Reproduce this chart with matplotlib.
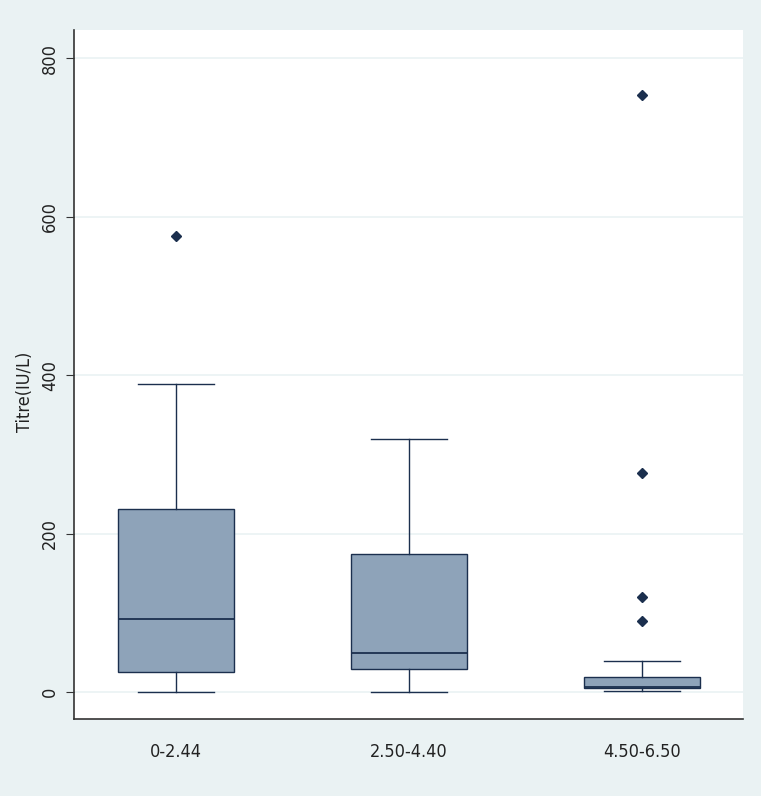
import matplotlib
matplotlib.use("Agg")
import matplotlib.pyplot as plt

categories = ["0-2.44", "2.50-4.40", "4.50-6.50"]
whislo = [0, 0, 2]
q1 = [25, 29, 5]
med = [92, 49, 7]
q3 = [231, 174, 19]
whishi = [389, 320, 39]
fliers = [[575], [], [90, 120, 276, 753]]
yticks = [0, 200, 400, 600, 800]
ylabel = "Titre(IU/L)"

plt.rcParams["font.family"] = ["DejaVu Sans"]
plt.rcParams["font.stretch"] = "condensed"

bg = "#EAF2F3"
fill = "#8EA3B9"
edge = "#1B2F4E"

fig = plt.figure(figsize=(7.61, 7.96), dpi=100, facecolor=bg)
ax = fig.add_axes([0.0972, 0.0967, 0.879, 0.865])
ax.set_facecolor("white")

stats = []
for i, c in enumerate(categories):
    stats.append(dict(label=c, whislo=whislo[i], q1=q1[i], med=med[i],
                      q3=q3[i], whishi=whishi[i], fliers=fliers[i]))

positions = [1, 2, 3]
ax.bxp(stats, positions=positions, widths=0.495, patch_artist=True,
       boxprops=dict(facecolor=fill, edgecolor=edge, linewidth=1.0),
       medianprops=dict(color=edge, linewidth=1.3),
       whiskerprops=dict(color=edge, linewidth=1.0),
       capprops=dict(color=edge, linewidth=1.0),
       capwidths=0.33,
       flierprops=dict(marker="D", markerfacecolor=edge, markeredgecolor=edge,
                       markersize=5, linestyle="none"),
       zorder=3)

ax.set_xlim(0.562, 3.433)
ax.set_ylim(-34, 835)
ax.set_yticks(yticks)
ax.set_yticklabels([str(t) for t in yticks], rotation=90, va="center",
                   fontsize=13, color="#222222", fontstretch="condensed")
ax.set_xticks(positions)
ax.set_xticklabels(categories, fontsize=13, color="#222222", fontstretch="condensed")
ax.tick_params(axis="x", length=0, pad=17)
ax.tick_params(axis="y", length=6, color="#333333", pad=5)
ax.yaxis.grid(True, color=bg, linewidth=1.2, zorder=0)
ax.set_axisbelow(True)

for s in ["top", "right"]:
    ax.spines[s].set_visible(False)
for s in ["left", "bottom"]:
    ax.spines[s].set_color("#333333")
    ax.spines[s].set_linewidth(1.2)

fig.text(0.033, 0.5075, ylabel, rotation=90, ha="center", va="center",
         fontsize=13, color="#222222", fontstretch="condensed")

fig.savefig("out.png", dpi=100, facecolor=bg)
